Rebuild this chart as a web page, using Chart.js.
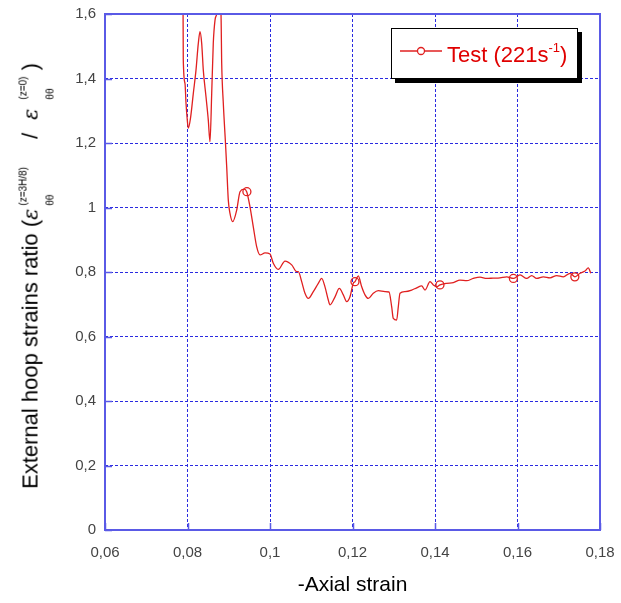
<!DOCTYPE html>
<html>
<head>
<meta charset="utf-8">
<script src="https://cdn.jsdelivr.net/npm/chart.js@4.4.1/dist/chart.umd.min.js"></script>
<style>
  html, body { margin: 0; padding: 0; background: #fff; }
  #wrap { position: relative; width: 621px; height: 603px; font-family: Arial, "Liberation Sans", sans-serif; }
  #yTitle {
    position: absolute; left: 37px; top: 276px;
    transform: translate(-50%, -50%) rotate(-90deg);
    white-space: nowrap; font-size: 22px; color: #000; line-height: 24px;
  }
  #yTitle .eps { font-style: italic; font-family: "DejaVu Serif", serif; font-size: 21px; }
  #yTitle .st {
    display: inline-flex; flex-direction: column; align-items: flex-start;
    vertical-align: 11px; font-size: 10px; line-height: 12px; margin-left: 3px;
  }
  #yTitle .st2 { margin-left: 9px; }
  #yTitle .st .dn { margin-top: 15px; }
  #yTitle .sl { margin: 0 13px 0 28px; }
  #yTitle .cp { margin-left: 6px; }
  #legend {
    position: absolute; left: 391px; top: 28px; width: 185px; height: 49px;
    border: 1px solid #000; background: #fff; box-shadow: 4px 4px 0 #000;
  }
  #legend svg { position: absolute; left: 8px; top: 15px; }
  #legend .txt {
    position: absolute; left: 55px; top: 13px; color: #e00000; font-size: 22px; white-space: nowrap;
  }
  #legend sup { font-size: 13px; vertical-align: 10px; line-height: 0; }
</style>
</head>
<body>
<div id="wrap">
  <canvas id="chart" width="621" height="603"></canvas>
  <div id="yTitle">External hoop strains ratio (<span class="eps">ε</span><span class="st"><span class="up">(z=3H/8)</span><span class="dn">θθ</span></span><span class="sl">/</span><span class="eps">ε</span><span class="st st2"><span class="up">(z=0)</span><span class="dn">θθ</span></span><span class="cp">)</span></div>
  <div id="legend">
    <svg width="44" height="14"><line x1="0" y1="7" x2="42" y2="7" stroke="#e02020" stroke-width="1.5"/><circle cx="21" cy="7" r="3.5" fill="#fff" stroke="#e02020" stroke-width="1.3"/></svg>
    <span class="txt">Test (221s<sup>-1</sup>)</span>
  </div>
</div>
<script>
// axis ranges / ticks
const xMin = 0.06, xMax = 0.18, xStep = 0.02;
const yMin = 0, yMax = 1.6, yStep = 0.2;

// test curve (-axial strain, hoop strain ratio)
const strainX = [
  0.0789, 0.07898, 0.07939, 0.07964, 0.07995, 0.08019, 0.08078, 0.08141, 0.08206, 0.08262,
  0.08303, 0.08344, 0.08383, 0.08448, 0.08504, 0.08545, 0.08587, 0.08625, 0.08667, 0.08708,
  0.08752, 0.08812, 0.08829, 0.08868, 0.08921, 0.0895, 0.08989, 0.0903, 0.09096, 0.09193,
  0.09273, 0.0937, 0.09435, 0.09515, 0.09595, 0.09678, 0.09758, 0.09879, 0.1, 0.1008,
  0.102, 0.10364, 0.10526, 0.10647, 0.10686, 0.10768, 0.10848, 0.10929, 0.1105, 0.11171,
  0.11253, 0.11333, 0.11413, 0.11455, 0.11576, 0.1168, 0.11777, 0.11859, 0.11939, 0.12019,
  0.12061, 0.12141, 0.12223, 0.12303, 0.12383, 0.12504, 0.12626, 0.12788, 0.12885, 0.1295,
  0.12989, 0.13071, 0.1311, 0.13152, 0.13273, 0.13435, 0.13556, 0.13677, 0.13758, 0.13879,
  0.13959, 0.14041, 0.14121, 0.14284, 0.14444, 0.14606, 0.14768, 0.14928, 0.15091, 0.15253,
  0.15406, 0.15576, 0.15738, 0.15898, 0.16061, 0.16223, 0.16344, 0.16465, 0.16626, 0.16788,
  0.1695, 0.17111, 0.17273, 0.17394, 0.17515, 0.17636, 0.17717, 0.17775
];
const ratioY = [
  1.70, 1.457, 1.385, 1.323, 1.271, 1.246, 1.282, 1.354, 1.426, 1.509,
  1.545, 1.509, 1.426, 1.344, 1.271, 1.204, 1.354, 1.509, 1.581, 1.60,
  1.65, 1.60, 1.447, 1.323, 1.199, 1.127, 1.023, 0.982, 0.956, 0.992,
  1.049, 1.057, 1.049, 1.002, 0.940, 0.878, 0.853, 0.859, 0.856, 0.827,
  0.808, 0.834, 0.822, 0.801, 0.801, 0.770, 0.734, 0.718, 0.739, 0.765,
  0.780, 0.754, 0.713, 0.698, 0.723, 0.749, 0.729, 0.708, 0.723, 0.765,
  0.770, 0.788, 0.754, 0.729, 0.718, 0.734, 0.742, 0.739, 0.738, 0.692,
  0.656, 0.651, 0.692, 0.734, 0.739, 0.744, 0.751, 0.757, 0.744, 0.770,
  0.760, 0.754, 0.760, 0.765, 0.767, 0.775, 0.773, 0.780, 0.784, 0.780,
  0.781, 0.782, 0.785, 0.780, 0.791, 0.780, 0.789, 0.780, 0.785, 0.782,
  0.789, 0.785, 0.796, 0.785, 0.796, 0.803, 0.813, 0.796
];

// hollow circle markers along the curve
const markerX = [0.0944, 0.1206, 0.1412, 0.1590, 0.1739];
const markerY = [1.049, 0.770, 0.760, 0.780, 0.785];

const red = '#e02020';
const gridBlue = '#2a2ae0';
const frameBlue = '#5a5ae6';

function commaLabel(v) {
  return String(Number(v.toFixed(2))).replace('.', ',');
}

// frame + inward tick marks
const framePlugin = {
  id: 'frame',
  afterDraw(chart) {
    const { ctx, chartArea: a, scales } = chart;
    ctx.save();
    ctx.setLineDash([]);
    ctx.strokeStyle = frameBlue;
    ctx.lineWidth = 2;
    ctx.strokeRect(a.left, a.top, a.right - a.left, a.bottom - a.top);
    ctx.lineWidth = 1.5;
    ctx.beginPath();
    scales.x.ticks.forEach(t => {
      const px = Math.round(scales.x.getPixelForValue(t.value)) + 0.5;
      ctx.moveTo(px, a.bottom);
      ctx.lineTo(px, a.bottom - 7);
    });
    scales.y.ticks.forEach(t => {
      const py = Math.round(scales.y.getPixelForValue(t.value)) + 0.5;
      ctx.moveTo(a.left, py);
      ctx.lineTo(a.left + 7, py);
    });
    ctx.stroke();
    ctx.restore();
  }
};

new Chart(document.getElementById('chart'), {
  type: 'scatter',
  data: {
    datasets: [
      {
        data: strainX.map((x, i) => ({ x, y: ratioY[i] })),
        showLine: true,
        borderColor: red,
        borderWidth: 1.3,
        pointRadius: 0,
        cubicInterpolationMode: 'monotone',
        order: 2
      },
      {
        data: markerX.map((x, i) => ({ x, y: markerY[i] })),
        showLine: false,
        pointRadius: 4,
        pointBorderWidth: 1.3,
        pointBorderColor: red,
        pointBackgroundColor: 'rgba(255,255,255,0)',
        order: 1
      }
    ]
  },
  options: {
    responsive: false,
    animation: false,
    layout: { padding: { top: 14, right: 21, bottom: 0, left: 0 } },
    plugins: { legend: { display: false }, tooltip: { enabled: false } },
    scales: {
      x: {
        type: 'linear',
        min: xMin, max: xMax,
        afterFit(scale) {
          scale.height = 73;
          scale.paddingLeft = 0;
          scale.paddingRight = 0;
        },
        border: { display: false, dash: [3, 2] },
        grid: { color: gridBlue, lineWidth: 1, drawTicks: false },
        ticks: {
          stepSize: xStep, padding: 14,
          font: { family: 'Arial, "Liberation Sans", sans-serif', size: 15 },
          color: '#444',
          callback: v => commaLabel(v)
        },
        title: {
          display: true, text: '-Axial strain', color: '#000',
          font: { family: 'Arial, "Liberation Sans", sans-serif', size: 21 },
          padding: { top: 0, bottom: 5 }
        }
      },
      y: {
        type: 'linear',
        min: yMin, max: yMax,
        afterFit(scale) {
          scale.width = 105;
          scale.paddingTop = 0;
          scale.paddingBottom = 0;
        },
        border: { display: false, dash: [3, 2] },
        grid: { color: gridBlue, lineWidth: 1, drawTicks: false },
        ticks: {
          stepSize: yStep, padding: 9,
          font: { family: 'Arial, "Liberation Sans", sans-serif', size: 15 },
          color: '#444',
          callback: v => commaLabel(v)
        }
      }
    }
  },
  plugins: [framePlugin]
});
</script>
</body>
</html>
